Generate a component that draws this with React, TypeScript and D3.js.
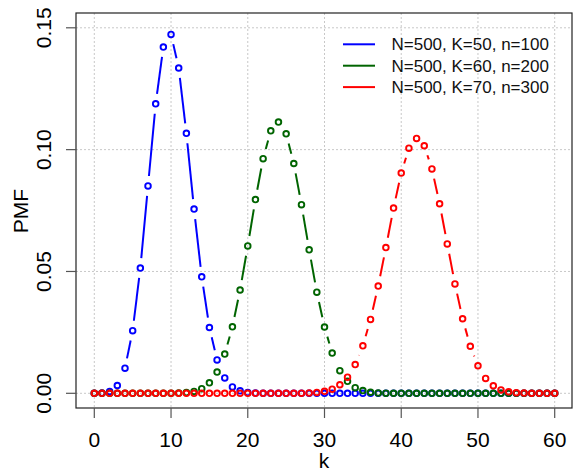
import React from "react";
import * as d3 from "d3";

const kValues = [
  0, 1, 2, 3, 4, 5, 6, 7, 8, 9,
  10, 11, 12, 13, 14, 15, 16, 17, 18, 19,
  20, 21, 22, 23, 24, 25, 26, 27, 28, 29,
  30, 31, 32, 33, 34, 35, 36, 37, 38, 39,
  40, 41, 42, 43, 44, 45, 46, 47, 48, 49,
  50, 51, 52, 53, 54, 55, 56, 57, 58, 59,
  60,
];

const pmfBlue = [
  0.00001, 0.0001, 0.0007, 0.0032, 0.0103, 0.0257, 0.0514, 0.0851, 0.1188, 0.1421,
  0.1473, 0.1335, 0.1067, 0.0756, 0.0478, 0.027, 0.0137, 0.0063, 0.0026, 0.001,
  0.0003, 0.0001, 0.00003, 0.00001, 0, 0, 0, 0, 0, 0,
  0, 0, 0, 0, 0, 0, 0, 0, 0, 0,
  0, 0, 0, 0, 0, 0, 0, 0, 0, 0,
  0, 0, 0, 0, 0, 0, 0, 0, 0, 0,
  0,
];

const pmfGreen = [
  0, 0, 0, 0, 0, 0, 0, 0, 0.000002, 0.000007,
  0.00003, 0.00009, 0.00028, 0.00077, 0.0019, 0.0043, 0.0087, 0.0161, 0.0273, 0.0424,
  0.0605, 0.0795, 0.0963, 0.1077, 0.1113, 0.1065, 0.0943, 0.0774, 0.0589, 0.0415,
  0.0272, 0.0165, 0.0093, 0.0049, 0.0023, 0.0011, 0.00044, 0.00017, 0.00006, 0.00002,
  0.000006, 0.000002, 0, 0, 0, 0, 0, 0, 0, 0,
  0, 0, 0, 0, 0, 0, 0, 0, 0, 0,
  0,
];

const pmfRed = [
  0, 0, 0, 0, 0, 0, 0, 0, 0, 0,
  0, 0, 0, 0, 0, 0, 0, 0, 0, 0,
  0, 0, 0, 0, 0, 0.000006, 0.00002, 0.00005, 0.00014, 0.00035,
  0.0008, 0.0017, 0.0035, 0.0066, 0.0118, 0.0195, 0.0303, 0.044, 0.0598, 0.076,
  0.0904, 0.1006, 0.1046, 0.1016, 0.0921, 0.0778, 0.0613, 0.0449, 0.0306, 0.0193,
  0.0113, 0.0061, 0.0031, 0.0014, 0.0006, 0.00023, 0.00008, 0.00003, 0.000008, 0.000002,
  0.0000005,
];

const seriesLabels = ["N=500, K=50, n=100", "N=500, K=60, n=200", "N=500, K=70, n=300"];
const seriesColors = ["#0000FF", "#006400", "#FF0000"];
const xTicks = [0, 10, 20, 30, 40, 50, 60];
const yTicks = [0, 0.05, 0.1, 0.15];
const yTickLabels = ["0.00", "0.05", "0.10", "0.15"];

const W = 574;
const H = 474;
const box = { left: 76, right: 572, top: 13, bottom: 408 };
const FONT = "Arial, 'Liberation Sans', Helvetica, sans-serif";
const GAP = 10;

export default function App() {
  const x = d3.scaleLinear().domain([0, 60]).range([94.3, 554.7]);
  const y = d3.scaleLinear().domain([0, 0.15]).range([393.3, 27.8]);
  const series = [pmfBlue, pmfGreen, pmfRed];

  const segmentsFor = (vals: number[]) => {
    const segs: { x1: number; y1: number; x2: number; y2: number }[] = [];
    for (let i = 0; i < kValues.length - 1; i++) {
      const x1 = x(kValues[i]);
      const y1 = y(vals[i]);
      const x2 = x(kValues[i + 1]);
      const y2 = y(vals[i + 1]);
      const dx = x2 - x1;
      const dy = y2 - y1;
      const d = Math.hypot(dx, dy);
      if (d > 2 * GAP) {
        const ux = dx / d;
        const uy = dy / d;
        segs.push({
          x1: x1 + ux * GAP,
          y1: y1 + uy * GAP,
          x2: x2 - ux * GAP,
          y2: y2 - uy * GAP,
        });
      }
    }
    return segs;
  };

  return (
    <svg
      width={W}
      height={H}
      style={{ position: "absolute", left: 0, top: 0, background: "#fff" }}
      fontFamily={FONT}
    >
      <rect x={0} y={0} width={W} height={H} fill="#fff" />
      {xTicks.map((t) => (
        <line
          key={"gx" + t}
          x1={x(t)}
          x2={x(t)}
          y1={box.top}
          y2={box.bottom}
          stroke="#c8c8c8"
          strokeWidth={1}
          strokeDasharray="2,2"
        />
      ))}
      {yTicks.map((t) => (
        <line
          key={"gy" + t}
          x1={box.left}
          x2={box.right}
          y1={y(t)}
          y2={y(t)}
          stroke="#c8c8c8"
          strokeWidth={1}
          strokeDasharray="2,2"
        />
      ))}
      {series.map((vals, si) => (
        <g key={"s" + si}>
          {segmentsFor(vals).map((s, i) => (
            <line
              key={i}
              x1={s.x1}
              y1={s.y1}
              x2={s.x2}
              y2={s.y2}
              stroke={seriesColors[si]}
              strokeWidth={2}
            />
          ))}
          {vals.map((v, i) => (
            <circle
              key={"c" + i}
              cx={x(kValues[i])}
              cy={y(v)}
              r={2.8}
              fill="none"
              stroke={seriesColors[si]}
              strokeWidth={1.9}
            />
          ))}
        </g>
      ))}
      <rect
        x={box.left}
        y={box.top}
        width={box.right - box.left}
        height={box.bottom - box.top}
        fill="none"
        stroke="#222"
        strokeWidth={1.2}
      />
      {xTicks.map((t) => (
        <g key={"xt" + t}>
          <line x1={x(t)} x2={x(t)} y1={box.bottom} y2={box.bottom + 10} stroke="#555" strokeWidth={1.2} />
          <text x={x(t)} y={446.5} textAnchor="middle" fontSize={21} fill="#000">
            {t}
          </text>
        </g>
      ))}
      {yTicks.map((t, i) => (
        <g key={"yt" + t}>
          <line x1={box.left - 10} x2={box.left} y1={y(t)} y2={y(t)} stroke="#555" strokeWidth={1.2} />
          <text
            transform={`translate(51,${y(t)}) rotate(-90)`}
            textAnchor="middle"
            fontSize={21}
            fill="#000"
          >
            {yTickLabels[i]}
          </text>
        </g>
      ))}
      <text x={324} y={468} textAnchor="middle" fontSize={21} fill="#000">
        k
      </text>
      <text transform="translate(28,211) rotate(-90)" textAnchor="middle" fontSize={21} fill="#000">
        PMF
      </text>
      {seriesLabels.map((lab, i) => {
        const ly = 44.3 + i * 21.4;
        return (
          <g key={"lg" + i}>
            <line x1={343} x2={375} y1={ly} y2={ly} stroke={seriesColors[i]} strokeWidth={2} />
            <text x={391.5} y={ly + 6} fontSize={17} fill="#111">
              {lab}
            </text>
          </g>
        );
      })}
    </svg>
  );
}
